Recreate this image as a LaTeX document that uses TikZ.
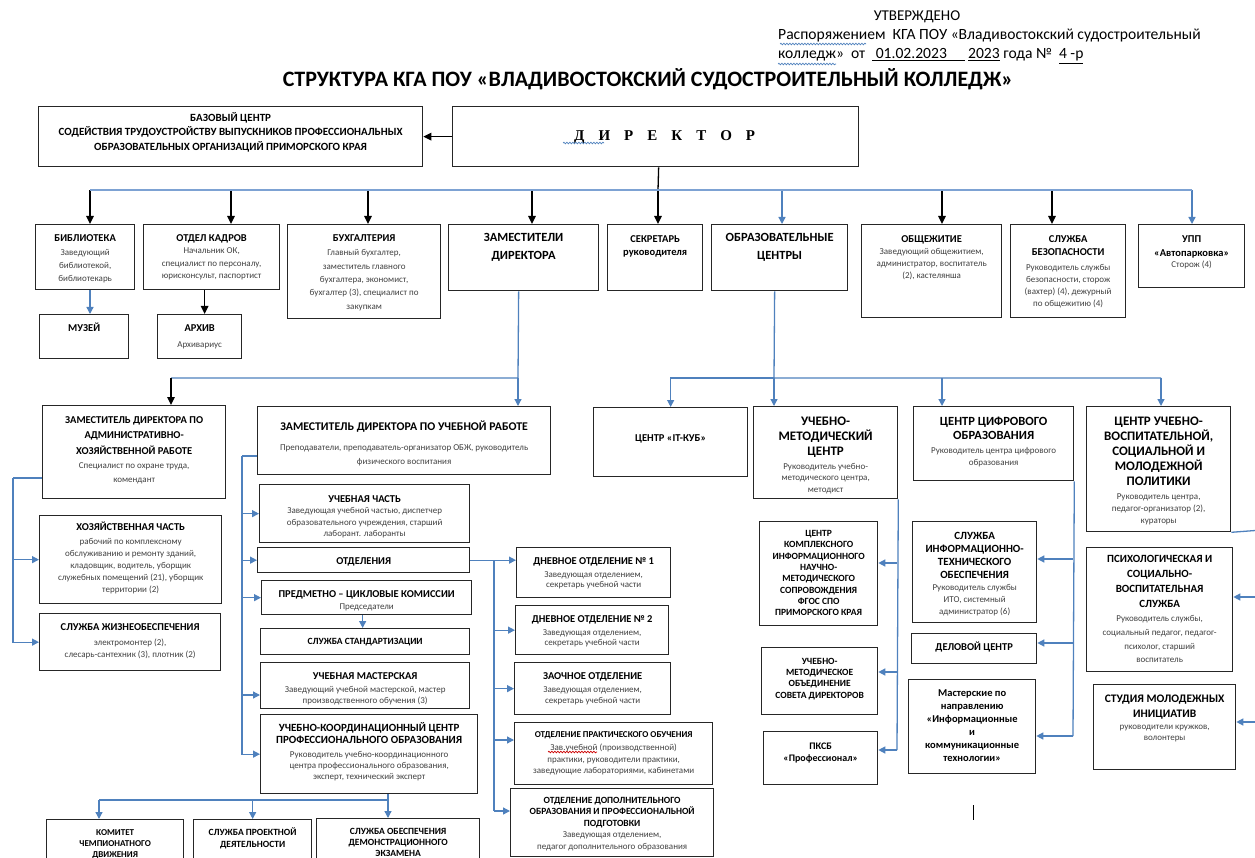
\documentclass[tikz,border=0pt]{standalone}
\usepackage{fontspec}
\setmainfont{Carlito}
\newfontfamily\serifb{Liberation Serif}
\usetikzlibrary{arrows.meta,decorations.pathmorphing}
\definecolor{lnblue}{RGB}{79,129,189}
\definecolor{busblue}{RGB}{125,162,211}
\newcommand{\bx}[3]{\parbox[c][#2pt][t]{#1pt}{\centering #3}}
\newcommand{\hd}[2][10.5]{\fontsize{#1}{#2}\selectfont\bfseries}
\newcommand{\ds}[1][12]{\fontsize{9}{#1}\selectfont\color{black!75}}
\newcommand{\fl}[1]{\rule{0pt}{#1pt}}

\begin{document}
\begin{tikzpicture}[x=1pt,y=-1pt,
  box/.style={draw=black!85, line width=1.3pt, inner sep=0pt, anchor=north west},
  bl/.style={draw=lnblue, line width=1.3pt},
  ba/.style={draw=lnblue, line width=1.3pt, -{Triangle[length=7pt,width=7pt]}},
  busl/.style={draw=busblue, line width=2pt},
  kl/.style={draw=black, line width=1.3pt},
  bk/.style={draw=black, line width=1.3pt, -{Triangle[length=8pt,width=7.5pt]}},
  wavy/.style={decorate, decoration={snake, amplitude=0.8pt, segment length=3pt}, line width=0.7pt}]
\useasboundingbox (0,0) rectangle (1255,858);
\clip (0,0) rectangle (1255,858);

% header
\node (appr) at (917,17) {\fontsize{15}{15}\selectfont УТВЕРЖДЕНО};
\node[anchor=west, inner sep=0pt] (ord1) at (778,36) {\fontsize{15.6}{15.6}\selectfont Распоряжением\ \ КГА ПОУ «Владивостокский судостроительный};
\node[anchor=west, inner sep=0pt] (ord2) at (778,56) {\fontsize{15.6}{15.6}\selectfont колледж»\ \ от\ \ \underline{\ 01.02.2023\ \ \ \ \ }\ \underline{2023} года №\ \ \underline{4 -р}};
\node (ttl) at (648,79) {\fontsize{22}{22}\selectfont\bfseries СТРУКТУРА КГА ПОУ «ВЛАДИВОСТОКСКИЙ СУДОСТРОИТЕЛЬНЫЙ КОЛЛЕДЖ»};
\draw[wavy, lnblue] (780,44) -- (866,44);
\draw[wavy, lnblue] (778,64) -- (836,64);

% top row
\node[box] (baz) at (38,106) {\bx{384}{60}{{\hd[11]{14.5}\fl{14.5}БАЗОВЫЙ ЦЕНТР\\СОДЕЙСТВИЯ ТРУДОУСТРОЙСТВУ ВЫПУСКНИКОВ ПРОФЕССИОНАЛЬНЫХ\\ОБРАЗОВАТЕЛЬНЫХ ОРГАНИЗАЦИЙ ПРИМОРСКОГО КРАЯ\par}}};
\node[box, minimum width=406pt, minimum height=60pt] (dir) at (452,106) {\serifb\bfseries\fontsize{15}{15}\selectfont\hspace*{18pt}Д\hspace{14pt}И\hspace{14pt}Р\hspace{14pt}Е\hspace{14pt}К\hspace{14pt}Т\hspace{14pt}О\hspace{14pt}Р};
\draw[wavy, lnblue] (563,143) -- (604,143);
\draw[bk] (dir.west) -- (baz.east);

% second row
\node[box] (lib) at (35,224) {\bx{99}{65}{{\hd{15}\fl{16.5}БИБЛИОТЕКА\par}\vspace{1pt}{\ds[13]Заведующий\\библиотекой,\\библиотекарь\par}}};
\node[box] (ok) at (143,224) {\bx{136}{65}{{\hd{15}\fl{16.5}ОТДЕЛ КАДРОВ\par}{\ds[12.5]Начальник ОК,\\специалист по персоналу,\\юрисконсульт, паспортист\par}}};
\node[box] (buh) at (287,224) {\bx{153}{94}{{\hd{15}\fl{16.5}БУХГАЛТЕРИЯ\par}\vspace{1.5pt}{\ds[13.3]Главный бухгалтер,\\заместитель главного\\бухгалтера, экономист,\\бухгалтер (3), специалист по\\закупкам\par}}};
\node[box] (zam) at (448,224) {\bx{150}{66}{{\hd[12.5]{18}\fl{17}ЗАМЕСТИТЕЛИ\\ДИРЕКТОРА\par}}};
\node[box] (sek) at (607,224) {\bx{95}{66}{{\hd{13}\fl{17.5}СЕКРЕТАРЬ\\руководителя\par}}};
\node[box] (obr) at (711,224) {\bx{136}{66}{{\hd[12.5]{18}\fl{17}ОБРАЗОВАТЕЛЬНЫЕ\\ЦЕНТРЫ\par}}};
\node[box] (obsh) at (861,224) {\bx{140}{93}{{\hd{15}\fl{17.5}ОБЩЕЖИТИЕ\par}{\ds[12]Заведующий общежитием,\\администратор, воспитатель\\(2), кастелянша\par}}};
\node[box] (sb) at (1010,224) {\bx{115}{93}{{\hd{13}\fl{17.5}СЛУЖБА\\БЕЗОПАСНОСТИ\par}\vspace{3pt}{\ds[12]Руководитель службы\\безопасности, сторож\\(вахтер) (4), дежурный\\по общежитию (4)\par}}};
\node[box] (upp) at (1138,224) {\bx{106}{63}{{\hd{14}\fl{17.5}УПП\\«Автопарковка»\par}{\ds[11]Сторож (4)\par}}};
\node[box] (mus) at (39,314) {\bx{89}{44}{{\hd{15}\fl{16.5}МУЗЕЙ\par}}};
\node[box] (arch) at (157,314) {\bx{84}{44}{{\hd{15}\fl{16.5}АРХИВ\par}\vspace{2pt}{\ds[14]Архивариус\par}}};

\coordinate (v1) at (658,190);
\coordinate (v2) at (90,190);
\coordinate (v3) at (231,190);
\coordinate (v4) at (368,190);
\coordinate (v5) at (532,190);
\coordinate (v6) at (782,190);
\coordinate (v7) at (942,190);
\coordinate (v8) at (1052,190);
\coordinate (v9) at (1192,190);
\draw[kl] ([xshift=3pt]dir.south) -- (v1);
\draw[bk] (v2) -- (v2 |- lib.north);
\draw[bk] (v3) -- (v3 |- ok.north);
\draw[bk] (v4) -- (v4 |- buh.north);
\draw[bk] (v5) -- (v5 |- zam.north);
\draw[bk] (v1) -- (v1 |- sek.north);
\draw[ba] (v6) -- (v6 |- obr.north);
\draw[bk] (v7) -- (v7 |- obsh.north);
\draw[bk] (v8) -- (v8 |- sb.north);
\draw[ba] (v9) -- (v9 |- upp.north);
\draw[busl] (v2) -- (v9);
\draw[ba] (lib.south -| v2) -- (mus.north -| v2);
\draw[bk] ([xshift=-7pt]ok.south) -- ([xshift=-7pt]ok.south |- arch.north);

% third row
\node[box] (zahr) at (42,405) {\bx{183}{93}{{\hd{15.5}\fl{17.5}ЗАМЕСТИТЕЛЬ ДИРЕКТОРА ПО\\АДМИНИСТРАТИВНО-\\ХОЗЯЙСТВЕННОЙ РАБОТЕ\par}{\ds[14]Специалист по охране труда,\\комендант\par}}};
\node[box] (zur) at (257,406) {\bx{293}{68}{{\hd[11.8]{15}\fl{24}ЗАМЕСТИТЕЛЬ ДИРЕКТОРА ПО УЧЕБНОЙ РАБОТЕ\par}\vspace{6pt}{\ds[14]Преподаватели, преподаватель-организатор ОБЖ, руководитель\\физического воспитания\par}}};
\node[box] (itc) at (593,407) {\bx{154}{69}{{\hd{15}\fl{33.5}ЦЕНТР «IT-КУБ»\par}}};
\node[box] (umc) at (753,406) {\bx{144}{92}{{\hd[13]{15}\fl{18.5}УЧЕБНО-\\МЕТОДИЧЕСКИЙ\\ЦЕНТР\par}\vspace{2.5pt}{\ds[11.5]Руководитель учебно-\\методического центра,\\методист\par}}};
\node[box] (cco) at (913,406) {\bx{160}{74}{{\hd[12.5]{14}\fl{19}ЦЕНТР ЦИФРОВОГО\\ОБРАЗОВАНИЯ\par}\vspace{2pt}{\ds[12]Руководитель центра цифрового\\образования\par}}};
\node[box] (cuv) at (1086,406) {\bx{144}{125}{{\hd[13]{15}\fl{18.5}ЦЕНТР УЧЕБНО-\\ВОСПИТАТЕЛЬНОЙ,\\СОЦИАЛЬНОЙ И\\МОЛОДЕЖНОЙ\\ПОЛИТИКИ\par}\vspace{2pt}{\ds[12]Руководитель центра,\\педагог-организатор (2),\\кураторы\par}}};

\coordinate (v10) at (518,378);
\coordinate (v11) at (171,378);
\coordinate (v12) at (774,378);
\coordinate (v13) at (942,378);
\coordinate (v14) at (1161,378);
\draw[bl] ([xshift=-5pt]zam.south) -- (v10) -- (v11);
\draw[bk] (v11) -- (v11 |- zahr.north);
\draw[ba] (v10) -- (v10 |- zur.north);
\draw[bl] ([xshift=-5pt]obr.south) -- (v12) -- (v14);
\draw[ba] (v12) -| (itc.north);
\draw[ba] (v12) -- (v12 |- umc.north);
\draw[ba] (v13) -- (v13 |- cco.north);
\draw[ba] (v14) -- (v14 |- cuv.north);

% administrative branch
\node[box] (hoz) at (39,515) {\bx{182}{88}{{\hd{15}\fl{14.5}ХОЗЯЙСТВЕННАЯ ЧАСТЬ\par}\vspace{3pt}{\ds[11.8]рабочий по комплексному\\обслуживанию и ремонту зданий,\\кладовщик, водитель, уборщик\\служебных помещений (21), уборщик\\территории (2)\par}}};
\node[box] (zhiz) at (39,613) {\bx{181}{57}{{\hd{15}\fl{16.5}СЛУЖБА ЖИЗНЕОБЕСПЕЧЕНИЯ\par}\vspace{3pt}{\ds[12]электромонтер (2),\\слесарь-сантехник (3), плотник (2)\par}}};
\coordinate (v15) at (13,478);
\draw[bl] (v15 -| zahr.west) -- (v15);
\draw[ba] (v15) |- (zhiz.west);
\draw[ba] (v15 |- hoz.west) -- (hoz.west);

% educational branch
\node[box] (uch) at (259,484) {\bx{210}{58}{{\hd{15}\fl{17.5}УЧЕБНАЯ ЧАСТЬ\par}{\ds[11.5]Заведующая учебной частью, диспетчер\\образовательного учреждения, старший\\лаборант. лаборанты\par}}};
\node[box] (otd) at (257,547) {\bx{212}{25}{{\hd{15}\fl{16.5}ОТДЕЛЕНИЯ\par}}};
\node[box] (pck) at (261,580) {\bx{210}{34}{{\hd{15}\fl{16.5}ПРЕДМЕТНО – ЦИКЛОВЫЕ КОМИССИИ\par}{\ds[12]Председатели\par}}};
\node[box] (std) at (260,628) {\bx{209}{26}{{\hd[9.5]{15}\fl{16}СЛУЖБА СТАНДАРТИЗАЦИИ\par}}};
\node[box] (mast) at (260,662) {\bx{209}{46}{{\hd{15}\fl{16.5}УЧЕБНАЯ МАСТЕРСКАЯ\par}\vspace{2pt}{\ds[11]Заведующий учебной мастерской, мастер\\производственного обучения (3)\par}}};
\node[box] (ukc) at (260,714) {\bx{217}{79}{{\hd[11]{12}\fl{17}УЧЕБНО-КООРДИНАЦИОННЫЙ ЦЕНТР\\ПРОФЕССИОНАЛЬНОГО ОБРАЗОВАНИЯ\par}\vspace{3pt}{\ds[11]Руководитель учебно-координационного\\центра профессионального образования,\\эксперт, технический эксперт\par}}};
\coordinate (v16) at (242,456);
\coordinate (v31) at (242,695);
\draw[bl] (v16 -| zur.west) -- (v16);
\draw[ba] (v16) |- (ukc.west);
\draw[ba] (v16 |- uch.west) -- (uch.west);
\draw[ba] (v16 |- otd.west) -- (otd.west);
\draw[ba] (v16 |- pck.west) -- (pck.west);
\draw[ba] (v31) -- (v31 -| mast.west);
\draw[ba] ([xshift=-4pt]pck.south) -- ([xshift=-4pt]pck.south |- std.north);

\node[box] (kom) at (46,819) {\bx{137}{56}{{\hd[9]{10.8}\fl{16}КОМИТЕТ\\ЧЕМПИОНАТНОГО\\ДВИЖЕНИЯ\par}}};
\node[box] (proj) at (193,819) {\bx{118}{56}{{\hd[9.5]{12}\fl{15.5}СЛУЖБА ПРОЕКТНОЙ\\ДЕЯТЕЛЬНОСТИ\par}}};
\node[box] (demo) at (316,818) {\bx{163}{57}{{\hd[9.5]{11}\fl{15.5}СЛУЖБА ОБЕСПЕЧЕНИЯ\\ДЕМОНСТРАЦИОННОГО\\ЭКЗАМЕНА\par}}};
\coordinate (v17) at (388,800);
\coordinate (v18) at (99,800);
\draw[bl] (v17 |- ukc.south) -- (v17) -- (v18);
\draw[ba] (v17) -- (v17 |- demo.north);
\draw[ba] (v17 -| proj.north) -- (proj.north);
\draw[ba] (v18) -- (v18 |- kom.north);

% departments
\node[box] (dn1) at (516,547) {\bx{154}{50}{{\hd{15}\fl{16.5}ДНЕВНОЕ ОТДЕЛЕНИЕ № 1\par}\vspace{2.5pt}{\ds[10.5]Заведующая отделением,\\секретарь учебной части\par}}};
\node[box] (dn2) at (515,605) {\bx{153}{49}{{\hd{15}\fl{16.5}ДНЕВНОЕ ОТДЕЛЕНИЕ № 2\par}\vspace{2.5pt}{\ds[10.5]Заведующая отделением,\\секретарь учебной части\par}}};
\node[box] (zao) at (514,662) {\bx{156}{52}{{\hd{15}\fl{16.5}ЗАОЧНОЕ ОТДЕЛЕНИЕ\par}\vspace{2.5pt}{\ds[11]Заведующая отделением,\\секретарь учебной части\par}}};
\node[box] (prak) at (514,722) {\bx{198}{62}{{\hd[9]{15}\fl{15}ОТДЕЛЕНИЕ ПРАКТИЧЕСКОГО ОБУЧЕНИЯ\par}\vspace{1.5pt}{\ds[11.5]Зав.учебной (производственной)\\практики, руководители практики,\\заведующие лабораториями, кабинетами\par}}};
\draw[wavy, red!80!black] (548,752) -- (597,752);
\node[box] (dop) at (510,788) {\bx{203}{68}{{\hd[9.5]{11.5}\fl{14.5}ОТДЕЛЕНИЕ ДОПОЛНИТЕЛЬНОГО\\ОБРАЗОВАНИЯ И ПРОФЕССИОНАЛЬНОЙ\\ПОДГОТОВКИ\par}{\ds[11.5]Заведующая отделением,\\педагог дополнительного образования\par}}};
\coordinate (v19) at (494,560);
\coordinate (v20) at (494,811);
\coordinate (v21) at (494,740);
\draw[ba] (otd.east) -- (otd.east -| dn1.west);
\draw[bl] (v19) -- (v20);
\draw[ba] (v19 |- dn2.west) -- (dn2.west);
\draw[ba] (v19 |- zao.west) -- (zao.west);
\draw[ba] (v21) -- (v21 -| prak.west);
\draw[ba] (v20) -- (v20 -| dop.west);

% methodical centre
\node[box] (ckin) at (759,521) {\bx{118}{104}{{\hd[9.5]{11.3}\fl{15}ЦЕНТР\\КОМПЛЕКСНОГО\\ИНФОРМАЦИОННОГО\\НАУЧНО-\\МЕТОДИЧЕСКОГО\\СОПРОВОЖДЕНИЯ\\ФГОС СПО\\ПРИМОРСКОГО КРАЯ\par}}};
\node[box] (umo) at (761,647) {\bx{116}{67}{{\hd[9.5]{11.3}\fl{16.5}УЧЕБНО-\\МЕТОДИЧЕСКОЕ\\ОБЪЕДИНЕНИЕ\\СОВЕТА ДИРЕКТОРОВ\par}}};
\node[box] (pksb) at (763,731) {\bx{114}{53}{{\hd[10]{12.5}\fl{17.5}ПКСБ\\«Профессионал»\par}}};
\coordinate (v22) at (897,563);
\coordinate (v23) at (897,672);
\coordinate (v24) at (897,750);
\draw[bl] (umc.south east) -- (v24);
\draw[ba] (v22) -- (v22 -| ckin.east);
\draw[ba] (v23) -- (v23 -| umo.east);
\draw[ba] (v24) -- (v24 -| pksb.east);

% digital centre
\node[box] (sito) at (912,521) {\bx{124}{101}{{\hd[11]{13}\fl{18}СЛУЖБА\\ИНФОРМАЦИОННО-\\ТЕХНИЧЕСКОГО\\ОБЕСПЕЧЕНИЯ\par}{\ds[12]Руководитель службы\\ИТО, системный\\администратор (6)\par}}};
\node[box] (delo) at (911,633) {\bx{125}{30}{{\hd{15}\fl{16.5}ДЕЛОВОЙ ЦЕНТР\par}}};
\node[box] (mastit) at (908,679) {\bx{127}{94}{{\hd{13}\fl{17}Мастерские по\\направлению\\«Информационные\\и\\коммуникационные\\технологии»\par}}};
\coordinate (v25) at (1073,559);
\coordinate (v26) at (1073,643);
\coordinate (v27) at (1073,736);
\draw[bl] (cco.south east) -- (v27);
\draw[ba] (v25) -- (v25 -| sito.east);
\draw[ba] (v26) -- (v26 -| delo.east);
\draw[ba] (v27) -- (v27 -| mastit.east);

% youth policy centre
\node[box] (psy) at (1086,547) {\bx{146}{124}{{\hd[11]{15}\fl{15}ПСИХОЛОГИЧЕСКАЯ И\\СОЦИАЛЬНО-\\ВОСПИТАТЕЛЬНАЯ\\СЛУЖБА\par}\vspace{0.5pt}{\ds[13.7]Руководитель службы,\\социальный педагог, педагог-\\психолог, старший\\воспитатель\par}}};
\node[box] (stud) at (1093,684) {\bx{142}{85}{{\hd[11.5]{15}\fl{18}СТУДИЯ МОЛОДЕЖНЫХ\\ИНИЦИАТИВ\par}{\ds[11.5]руководители кружков,\\волонтеры\par}}};
\coordinate (v28) at (1262,530);
\coordinate (v29) at (1262,597);
\coordinate (v30) at (1262,722);
\draw[bl] (cuv.south east) -- (v28) -- (v30);
\draw[ba] (v29) -- (v29 -| psy.east);
\draw[ba] (v30) -- (v30 -| stud.east);

\draw[line width=1pt] (973,805) -- (973,820);
\end{tikzpicture}
\end{document}
